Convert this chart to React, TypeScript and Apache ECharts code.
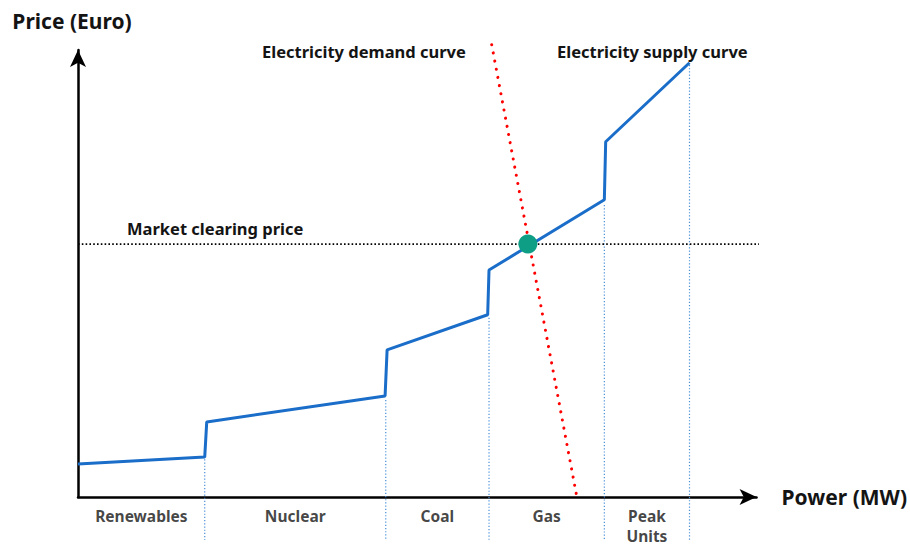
import React, { useEffect, useRef } from "react";
import * as echarts from "echarts";

// Supply curve (power in arbitrary MW units, price in arbitrary units)
const supplyPower = [0, 18.9, 19.2, 45.8, 46.1, 61.1, 61.3, 78.5, 78.7, 91.2];
const supplyPrice = [7.5, 9.1, 17.1, 23.0, 33.5, 41.5, 51.7, 67.7, 80.9, 98.9];

// Demand curve (straight line)
const demandPower = [61.7, 74.4];
const demandPrice = [103, 0];

// Market clearing
const clearingPower = 67.1;
const clearingPrice = 57.6;
const clearingLineEnd = 101.6;

// Axis extents
const powerMax = 101.2;
const priceMax = 101.8;

// Technology segments
const segmentBoundaries = [0, 18.9, 45.9, 61.3, 78.5, 91.2];
const boundaryTops = [8.6, 22.1, 40.8, 66.5, 98.4];
const boundaryBottom = -9.8;
const segmentNames = ["Renewables", "Nuclear", "Coal", "Gas", "Peak\nUnits"];
const segmentLabelLevel = -1.9;

const FONT = "'Noto Sans', 'Open Sans', sans-serif";
const TEXT_COLOR = "#141414";

export default function App() {
  const ref = useRef<HTMLDivElement>(null);

  useEffect(() => {
    if (!ref.current) return;
    const chart = echarts.init(ref.current, null, { renderer: "svg" });

    const supplyData = supplyPower.map((p, i) => [p, supplyPrice[i]]);
    const demandData = demandPower.map((p, i) => [p, demandPrice[i]]);

    const boundarySeries = segmentBoundaries.slice(1).map((x, i) => ({
      type: "line",
      name: "boundary" + i,
      data: [
        [x, boundaryTops[i]],
        [x, boundaryBottom],
      ],
      symbol: "none",
      clip: false,
      silent: true,
      lineStyle: { color: "#4a8fd8", width: 1.2, type: [1.2, 2] },
      z: 1,
    }));

    const labelData = segmentNames.map((n, i) => [
      (segmentBoundaries[i] + segmentBoundaries[i + 1]) / 2,
      segmentLabelLevel,
      n,
    ]);

    const axisLine = {
      onZero: false,
      symbol: ["none", "arrow"],
      symbolSize: [12, 17],
      lineStyle: { color: "#000", width: 2.5 },
    };

    chart.setOption({
      animation: false,
      backgroundColor: "#fff",
      grid: { left: 78, right: 153, top: 50, bottom: 50 },
      xAxis: {
        type: "value",
        min: 0,
        max: powerMax,
        splitLine: { show: false },
        axisTick: { show: false },
        axisLabel: { show: false },
        axisLine,
        name: "Power (MW)",
        nameLocation: "end",
        nameGap: 25,
        nameTextStyle: {
          fontSize: 21,
          fontWeight: "bold",
          color: TEXT_COLOR,
          fontFamily: FONT,
          verticalAlign: "middle",
          align: "left",
        },
      },
      yAxis: {
        type: "value",
        min: 0,
        max: priceMax,
        splitLine: { show: false },
        axisTick: { show: false },
        axisLabel: { show: false },
        axisLine,
        name: "Price (Euro)",
        nameLocation: "end",
        nameGap: 19,
        nameTextStyle: {
          fontSize: 21,
          fontWeight: "bold",
          color: TEXT_COLOR,
          fontFamily: FONT,
          padding: [0, 12, 0, 0],
        },
      },
      series: [
        ...boundarySeries,
        {
          type: "line",
          name: "Market clearing price",
          data: [
            [0, clearingPrice],
            [clearingLineEnd, clearingPrice],
          ],
          symbol: "none",
          clip: false,
          silent: true,
          lineStyle: { color: "#000", width: 1.6, type: [1.6, 2.2] },
          z: 2,
        },
        {
          type: "line",
          name: "Electricity demand curve",
          data: demandData,
          symbol: "none",
          clip: false,
          silent: true,
          lineStyle: { color: "#ff0000", width: 3, type: [0.1, 8.2], cap: "round" },
          z: 3,
        },
        {
          type: "line",
          name: "Electricity supply curve",
          data: supplyData,
          symbol: "none",
          clip: false,
          silent: true,
          lineStyle: { color: "#1a6dc8", width: 3 },
          z: 4,
        },
        {
          type: "scatter",
          name: "Clearing point",
          data: [[clearingPower, clearingPrice]],
          symbolSize: 19,
          itemStyle: { color: "#0e9e86", opacity: 1 },
          silent: true,
          z: 5,
        },
        {
          type: "scatter",
          name: "Segments",
          data: labelData,
          symbolSize: 0,
          clip: false,
          silent: true,
          label: {
            show: true,
            position: "bottom",
            distance: 0,
            formatter: (p: any) => p.value[2],
            fontSize: 15.5,
            fontWeight: "bold",
            lineHeight: 20.5,
            color: TEXT_COLOR,
            fontFamily: FONT,
            align: "center",
          },
          z: 5,
        },
      ],
      graphic: [
        {
          type: "text",
          left: 262,
          top: 43,
          style: {
            text: "Electricity demand curve",
            fontSize: 16.5,
            fontWeight: "bold",
            fill: TEXT_COLOR,
            fontFamily: FONT,
          },
        },
        {
          type: "text",
          left: 557,
          top: 43,
          style: {
            text: "Electricity supply curve",
            fontSize: 16.5,
            fontWeight: "bold",
            fill: TEXT_COLOR,
            fontFamily: FONT,
          },
        },
        {
          type: "text",
          left: 127,
          top: 220,
          style: {
            text: "Market clearing price",
            fontSize: 16.5,
            fontWeight: "bold",
            fill: TEXT_COLOR,
            fontFamily: FONT,
          },
        },
      ],
    });

    return () => chart.dispose();
  }, []);

  return (
    <div
      ref={ref}
      style={{ position: "fixed", left: 0, top: 0, width: 910, height: 547 }}
    />
  );
}
